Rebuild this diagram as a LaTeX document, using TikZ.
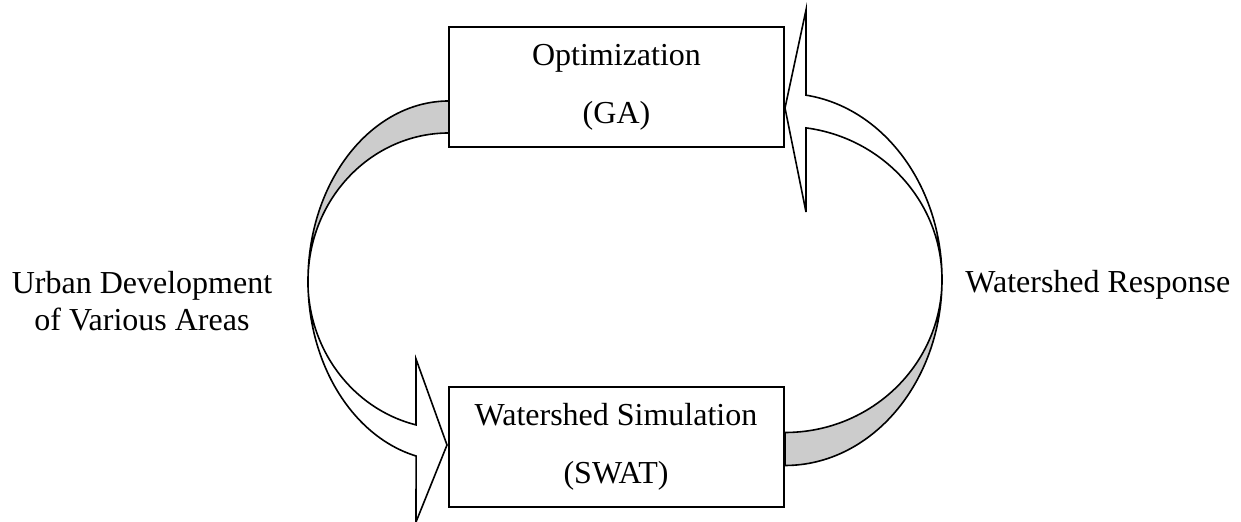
\documentclass[tikz,border=0pt]{standalone}
\usepackage{fontspec}
\setmainfont{Liberation Serif}
\begin{document}
\begin{tikzpicture}[x=0.5pt,y=0.5pt,
  procbox/.style={draw=black,line width=1pt,minimum width=167.5pt,minimum height=60pt,
    inner sep=0pt,align=center,font=\fontsize{16}{29}\selectfont},
  sidelabel/.style={inner sep=0pt,align=center,font=\fontsize{16}{18.5}\selectfont},
  bandback/.style={draw=black,line width=0.8pt,fill=black!20,line join=round},
  bandfront/.style={draw=black,line width=0.8pt,fill=white,line join=miter}]
\useasboundingbox (0,0) rectangle (1241,522);

% boxes
\node[procbox] (opt) at (616.5,435) {Optimization\\(GA)};
\node[procbox] (sim) at (616,75) {Watershed Simulation\\(SWAT)};

% left curved arrow (opt -> sim)
\draw[bandback] (449,421) arc[start angle=90,end angle=180,x radius=70.5pt,y radius=90pt]
  arc[start angle=180,end angle=90,x radius=70.5pt,y radius=74pt] -- cycle;
\draw[bandfront] (308,241) arc[start angle=180,end angle=256.5,x radius=70.5pt,y radius=90pt]
  -- (416,0) -- (447,77) -- (416,163) -- (416,97.1)
  arc[start angle=256.5,end angle=180,x radius=70.5pt,y radius=74pt] -- cycle;

% right curved arrow (sim -> opt)
\draw[bandback] (785,56.5) arc[start angle=270,end angle=360,x radius=78.5pt,y radius=93pt]
  arc[start angle=0,end angle=-90,x radius=78.5pt,y radius=76.5pt] -- cycle;
\draw[bandfront] (942,242.5) arc[start angle=0,end angle=82.3,x radius=78.5pt,y radius=93pt]
  -- (806,512) -- (785,414) -- (806,310) -- (806,394.1)
  arc[start angle=82.3,end angle=0,x radius=78.5pt,y radius=76.5pt] -- cycle;

% side labels
\node[sidelabel] (urban) at (142,221) {Urban Development\\of Various Areas};
\node[sidelabel,anchor=base west] (resp) at (965,229) {Watershed Response};
\end{tikzpicture}
\end{document}
